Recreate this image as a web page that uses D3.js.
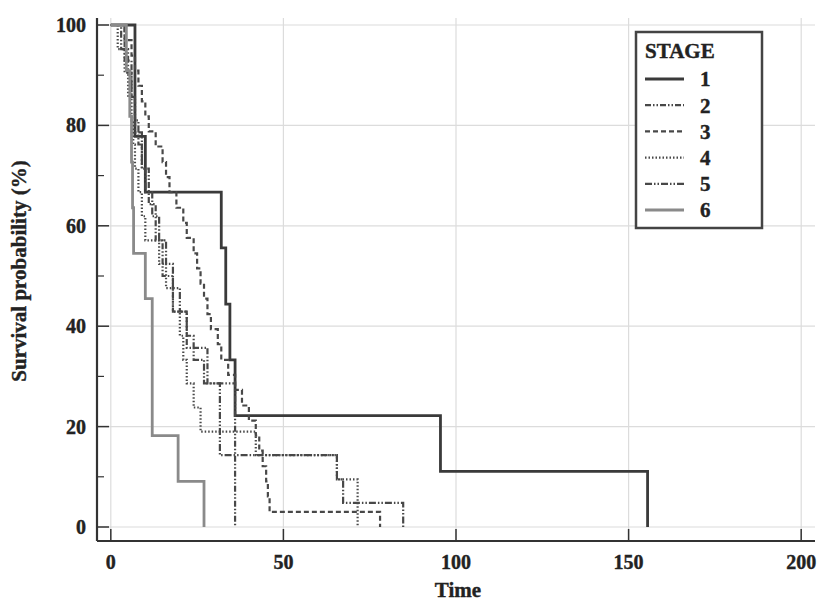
<!DOCTYPE html>
<html>
<head>
<meta charset="utf-8">
<script src="https://cdn.jsdelivr.net/npm/d3@7"></script>
<style>
  body { margin: 0; background: #fff; }
  text { font-family: "Liberation Serif", "DejaVu Serif", serif; font-weight: bold; fill: #222; stroke: #222; stroke-width: 0.4; }
</style>
</head>
<body>
<div id="chart"></div>
<script>
const W = 817, H = 604;

// survival steps: event times and survival (%) just after each event
const stage1T = [7, 10, 32, 33.3, 34.5, 36, 95.5, 155.5];
const stage1S = [77.8, 66.7, 55.6, 44.4, 33.3, 22.2, 11.1, 0];

const stage2T = [4, 6, 7, 9, 11, 13, 15, 18, 22, 28, 36];
const stage2S = [92.9, 85.7, 78.6, 71.4, 64.3, 57.1, 50, 42.9, 35.7, 28.6, 0];

const stage3T = [4, 6, 7, 8, 9, 10, 11, 13, 15, 16, 17, 19, 21, 22, 24, 25, 26, 27, 28, 29, 31, 32, 34, 36, 38, 40, 42, 43, 44, 45, 45.5, 46, 78];
const stage3S = [97, 93.9, 90.9, 87.9, 84.8, 81.8, 78.8, 75.8, 72.7, 69.7, 66.7, 63.6, 60.6, 57.6, 54.5, 51.5, 48.5, 45.5, 42.4, 39.4, 36.4, 33.3, 30.3, 27.3, 24.2, 21.2, 18.2, 15.2, 12.1, 9.1, 6.1, 3.0, 0];

const stage4T = [2, 4, 5, 6, 6.5, 7, 8, 9, 10, 14, 16, 18, 20, 21, 22, 24, 26, 42, 65.5, 71.5];
const stage4S = [95.2, 90.5, 85.7, 81, 76.2, 71.4, 66.7, 61.9, 57.1, 52.4, 47.6, 42.9, 38.1, 33.3, 28.6, 23.8, 19, 14.3, 9.5, 0];

const stage5T = [3, 5, 6, 7, 8, 9, 10, 12, 14, 16, 18, 20, 22, 24, 27, 31.6, 65.5, 67.3, 84.7];
const stage5S = [95.2, 90.5, 85.7, 81, 76.2, 71.4, 66.7, 61.9, 57.1, 52.4, 47.6, 42.9, 38.1, 33.3, 28.6, 14.3, 9.5, 4.8, 0];

const stage6T = [4.5, 5.5, 6, 6.3, 6.6, 10, 12, 19.5, 27];
const stage6S = [90.9, 81.8, 72.7, 63.6, 54.5, 45.5, 18.2, 9.1, 0];

const stages = ["1", "2", "3", "4", "5", "6"];
const xTicks = [0, 50, 100, 150, 200];
const yTicks = [0, 20, 40, 60, 80, 100];
const yMinor = [10, 30, 50, 70, 90];

const series = [
  { name: "1", t: stage1T, s: stage1S, color: "#3a3a3a", width: 2.8, dash: null },
  { name: "2", t: stage2T, s: stage2S, color: "#484848", width: 2.2, dash: "6,2,1.5,2,1.5,2" },
  { name: "3", t: stage3T, s: stage3S, color: "#484848", width: 2.2, dash: "5,3" },
  { name: "4", t: stage4T, s: stage4S, color: "#484848", width: 2.2, dash: "1.5,2" },
  { name: "5", t: stage5T, s: stage5S, color: "#484848", width: 2.2, dash: "7,2,1.5,2,1.5,2" },
  { name: "6", t: stage6T, s: stage6S, color: "#8a8a8a", width: 2.8, dash: null },
];

const x = d3.scaleLinear().domain([-4, 204]).range([97, 815]);
const y = d3.scaleLinear().domain([0, 100]).range([527, 25]);

const svg = d3.select("#chart").append("svg")
  .attr("width", W).attr("height", H);

// grid
svg.append("g").selectAll("line").data(xTicks).join("line")
  .attr("x1", d => x(d)).attr("x2", d => x(d))
  .attr("y1", 18).attr("y2", 541)
  .attr("stroke", "#dcdcdc").attr("stroke-width", 1.2);
svg.append("g").selectAll("line").data(yTicks).join("line")
  .attr("x1", 97).attr("x2", 815)
  .attr("y1", d => y(d)).attr("y2", d => y(d))
  .attr("stroke", "#dcdcdc").attr("stroke-width", 1.2);

// curves
const line = d3.line()
  .x(d => x(d[0])).y(d => y(d[1]))
  .curve(d3.curveStepAfter);

series.forEach(sr => {
  const pts = [[0, 100]];
  sr.t.forEach((t, i) => pts.push([t, sr.s[i]]));
  svg.append("path")
    .datum(pts)
    .attr("d", line)
    .attr("fill", "none")
    .attr("stroke", sr.color)
    .attr("stroke-width", sr.width)
    .attr("stroke-dasharray", sr.dash);
});

// axes
const yAxis = svg.append("g").attr("transform", "translate(97,0)");
yAxis.append("line").attr("x1", 0).attr("x2", 0).attr("y1", 18).attr("y2", 541)
  .attr("stroke", "#333").attr("stroke-width", 2.2);
yAxis.selectAll("line.maj").data(yTicks).join("line").attr("class", "maj")
  .attr("x1", 0).attr("x2", 12).attr("y1", d => y(d)).attr("y2", d => y(d))
  .attr("stroke", "#333").attr("stroke-width", 1.5);
yAxis.selectAll("line.min").data(yMinor).join("line").attr("class", "min")
  .attr("x1", 0).attr("x2", 7).attr("y1", d => y(d)).attr("y2", d => y(d))
  .attr("stroke", "#333").attr("stroke-width", 1.2);
yAxis.selectAll("text").data(yTicks).join("text")
  .attr("x", -11).attr("y", d => y(d)).attr("dy", "0.35em")
  .attr("text-anchor", "end").attr("font-size", 20)
  .text(d => d);

const xAxis = svg.append("g").attr("transform", "translate(0,541)");
xAxis.append("line").attr("x1", 97).attr("x2", 815).attr("y1", 0).attr("y2", 0)
  .attr("stroke", "#333").attr("stroke-width", 2.2);
xAxis.selectAll("line.maj").data(xTicks).join("line").attr("class", "maj")
  .attr("x1", d => x(d)).attr("x2", d => x(d)).attr("y1", 0).attr("y2", -12)
  .attr("stroke", "#333").attr("stroke-width", 1.5);
xAxis.selectAll("text").data(xTicks).join("text")
  .attr("x", d => x(d)).attr("y", 28)
  .attr("text-anchor", "middle").attr("font-size", 20)
  .text(d => d);

svg.append("text")
  .attr("transform", "translate(26,271) rotate(-90)")
  .attr("text-anchor", "middle").attr("font-size", 21)
  .text("Survival probability (%)");
svg.append("text")
  .attr("x", 458).attr("y", 597)
  .attr("text-anchor", "middle").attr("font-size", 21)
  .text("Time");

// legend
const lg = svg.append("g");
lg.append("rect").attr("x", 636).attr("y", 32).attr("width", 126).attr("height", 196)
  .attr("fill", "#fff").attr("stroke", "#444").attr("stroke-width", 2.5);
lg.append("text").attr("x", 645).attr("y", 58).attr("font-size", 21).text("STAGE");
series.forEach((sr, i) => {
  const yy = 79 + i * 26.2;
  lg.append("line").attr("x1", 645).attr("x2", 684).attr("y1", yy).attr("y2", yy)
    .attr("stroke", sr.color).attr("stroke-width", sr.width)
    .attr("stroke-dasharray", sr.dash);
  lg.append("text").attr("x", 700).attr("y", yy).attr("dy", "0.35em")
    .attr("font-size", 21).text(stages[i]);
});
</script>
</body>
</html>
